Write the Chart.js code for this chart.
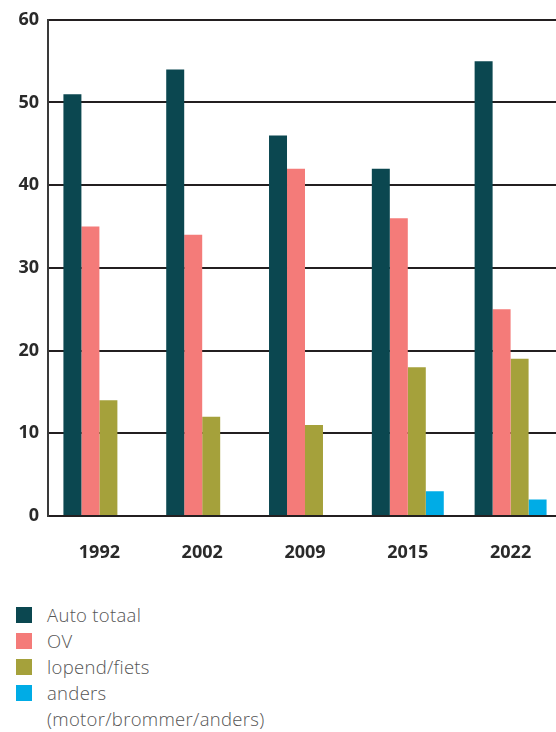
<!DOCTYPE html>
<html>
<head>
<meta charset="utf-8">
<script src="https://cdn.jsdelivr.net/npm/chart.js@4/dist/chart.umd.min.js"></script>
<style>
  html, body { margin: 0; padding: 0; background: #fff; overflow: hidden; width: 556px; height: 732px; }
  #wrap { position: relative; width: 562px; height: 580px; }
  #legend { position: absolute; left: 16px; top: 604px; font-family: "Open Sans", sans-serif; font-size: 18.5px; letter-spacing: 0.3px; font-weight: 300; color: #555; }
  .row { display: flex; align-items: flex-start; height: 26px; line-height: 22px; }
  .box { width: 16px; height: 16px; margin-top: 3px; margin-right: 15px; flex: none; }
</style>
</head>
<body>
<div id="wrap"><canvas id="chart" width="562" height="580"></canvas></div>
<div id="legend"></div>
<script>
const years = ['1992', '2002', '2009', '2015', '2022'];
const auto = [51, 54, 46, 42, 55];
const ov = [35, 34, 42, 36, 25];
const lopend = [14, 12, 11, 18, 19];
const anders = [null, null, null, 3, 2];
const yTicks = [0, 10, 20, 30, 40, 50, 60];

const seriesNames = ['Auto totaal', 'OV', 'lopend/fiets', ['anders', '(motor/brommer/anders)']];
const colors = ['#0b4750', '#f47b79', '#a5a13b', '#00ace6'];

const datasets = [auto, ov, lopend, anders].map((d, i) => ({
    label: Array.isArray(seriesNames[i]) ? seriesNames[i].join(' ') : seriesNames[i],
    data: d,
    backgroundColor: colors[i],
    barPercentage: 1,
    categoryPercentage: 0.7
}));

new Chart(document.getElementById('chart').getContext('2d'), {
    type: 'bar',
    data: { labels: years, datasets: datasets },
    options: {
        responsive: false,
        animation: false,
        layout: { padding: { top: 18, right: 0, left: 0, bottom: 0 } },
        scales: {
            x: {
                grid: { display: false, drawTicks: false },
                border: { display: true, color: '#231f20', width: 2 },
                ticks: {
                    color: '#2a2a2a',
                    padding: 26,
                    font: { family: 'Open Sans', size: 18, weight: 'bold' }
                },
                afterFit: s => { s.height = 64; }
            },
            y: {
                min: 0,
                max: 60,
                afterBuildTicks: s => { s.ticks = yTicks.map(v => ({ value: v })); },
                grid: { color: '#231f20', lineWidth: 2, drawTicks: false },
                border: { display: true, color: '#3a3a3a', width: 2 },
                ticks: {
                    color: '#2a2a2a',
                    padding: 9,
                    font: { family: 'Open Sans', size: 18, weight: 'bold' }
                },
                afterFit: s => { s.width = 48; }
            }
        },
        plugins: {
            legend: { display: false },
            tooltip: { enabled: false }
        }
    }
});

// legend below the chart
const legend = document.getElementById('legend');
seriesNames.forEach((name, i) => {
    const lines = Array.isArray(name) ? name : [name];
    lines.forEach((t, j) => {
        const row = document.createElement('div');
        row.className = 'row';
        const box = document.createElement('div');
        box.className = 'box';
        if (j === 0) box.style.background = colors[i];
        const txt = document.createElement('span');
        txt.textContent = t;
        row.appendChild(box);
        row.appendChild(txt);
        legend.appendChild(row);
    });
});
</script>
</body>
</html>
